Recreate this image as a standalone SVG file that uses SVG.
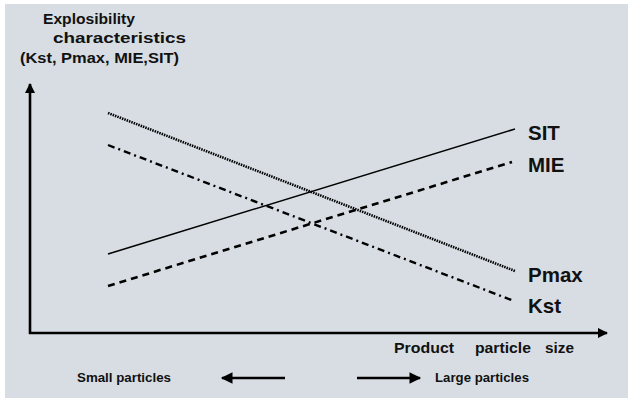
<svg xmlns="http://www.w3.org/2000/svg" width="628" height="398" viewBox="0 0 628 398">
  <defs>
    <marker id="ah" viewBox="0 0 10 10" refX="9" refY="5" markerWidth="4" markerHeight="4" orient="auto" markerUnits="strokeWidth">
      <path d="M0,0 L10,5 L0,10 Z" fill="#000"/>
    </marker>
    <marker id="ahs" viewBox="0 0 10 10" refX="9" refY="5" markerWidth="5" markerHeight="4.5" orient="auto" markerUnits="strokeWidth">
      <path d="M0,0 L10,5 L0,10 Z" fill="#000"/>
    </marker>
  </defs>
  <style>
    text { font-family: "Liberation Sans", Arial, sans-serif; font-weight: bold; fill: #111; }
    .t { font-size: 14.5px; }
    .lbl { font-size: 20.5px; }
    .sm { font-size: 12.5px; }
    .ax { stroke: #000; stroke-width: 2.6; fill: none; }
    .crv { fill: none; stroke: #000; }
  </style>
  <rect x="5" y="4" width="623" height="394" fill="#d7dde3"/>

  <g id="title">
    <text class="t" x="43" y="24" textLength="92" lengthAdjust="spacingAndGlyphs">Explosibility</text>
    <text class="t" x="53" y="43" textLength="133" lengthAdjust="spacingAndGlyphs">characteristics</text>
    <text class="t" x="20" y="63" textLength="159" lengthAdjust="spacingAndGlyphs">(Kst, Pmax, MIE,SIT)</text>
  </g>

  <g id="connectors">
    <line id="y-axis" class="ax" x1="30" y1="334" x2="30" y2="84" marker-end="url(#ah)"/>
    <line id="x-axis" class="ax" x1="29" y1="333" x2="607" y2="333" marker-end="url(#ah)"/>
    <line id="pmax-line" class="crv" x1="108" y1="113" x2="515" y2="271" stroke-width="2.6" stroke-dasharray="1.5 1"/>
    <line id="kst-line" class="crv" x1="108" y1="145" x2="514" y2="301" stroke-width="2.4" stroke-dasharray="7 4 2 4"/>
    <line id="sit-line" class="crv" x1="108" y1="254" x2="515" y2="129" stroke-width="1.5"/>
    <line id="mie-line" class="crv" x1="108" y1="286" x2="512" y2="162" stroke-width="2.6" stroke-dasharray="7 5"/>
    <line id="small-arrow" class="ax" x1="285" y1="378" x2="222" y2="378" stroke-width="2.2" marker-end="url(#ahs)"/>
    <line id="large-arrow" class="ax" x1="357" y1="378" x2="420" y2="378" stroke-width="2.2" marker-end="url(#ahs)"/>
  </g>

  <g id="label-sit"><text class="lbl" x="528" y="140">SIT</text></g>
  <g id="label-mie"><text class="lbl" x="528" y="172">MIE</text></g>
  <g id="label-pmax"><text class="lbl" x="528" y="282">Pmax</text></g>
  <g id="label-kst"><text class="lbl" x="528" y="313">Kst</text></g>

  <g id="x-title">
    <text class="t" x="394" y="353" textLength="60" lengthAdjust="spacingAndGlyphs">Product</text>
    <text class="t" x="475" y="353" textLength="56" lengthAdjust="spacingAndGlyphs">particle</text>
    <text class="t" x="545" y="353" textLength="29" lengthAdjust="spacingAndGlyphs">size</text>
  </g>
  <g id="small-particles"><text class="sm" x="77" y="382" textLength="94" lengthAdjust="spacingAndGlyphs">Small particles</text></g>
  <g id="large-particles"><text class="sm" x="435" y="382" textLength="94" lengthAdjust="spacingAndGlyphs">Large particles</text></g>
</svg>
